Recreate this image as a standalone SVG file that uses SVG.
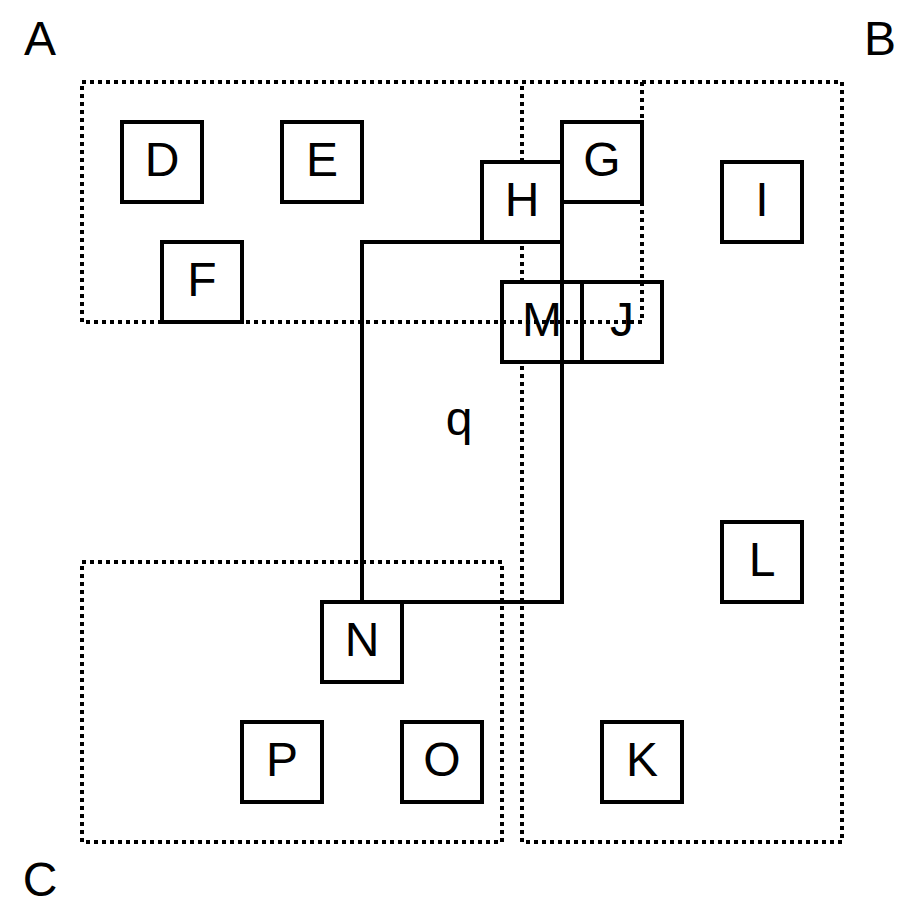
<svg xmlns="http://www.w3.org/2000/svg" width="920" height="920" viewBox="0 0 920 920">
<style>
.grp{fill:none;stroke:#000;stroke-width:4;stroke-dasharray:4 4}
.box{fill:#fff;stroke:#000;stroke-width:4}
.lbl{font-family:"Liberation Sans",Arial,sans-serif;font-size:48px;fill:#000;text-anchor:middle}
.edge{fill:none;stroke:#000;stroke-width:4}
</style>
<rect width="920" height="920" fill="#fff"/>
<g id="groupB"><rect class="grp" x="522" y="82" width="320" height="760"/><text class="lbl" x="880" y="55">B</text></g>
<g id="groupC"><rect class="grp" x="82" y="562" width="420" height="280"/><text class="lbl" x="40" y="896">C</text></g>
<g id="D"><rect class="box" x="122" y="122" width="80" height="80"/><text class="lbl" x="162" y="176">D</text></g>
<g id="E"><rect class="box" x="282" y="122" width="80" height="80"/><text class="lbl" x="322" y="176">E</text></g>
<g id="F"><rect class="box" x="162" y="242" width="80" height="80"/><text class="lbl" x="202" y="296">F</text></g>
<g id="G"><rect class="box" x="562" y="122" width="80" height="80"/><text class="lbl" x="602" y="176">G</text></g>
<g id="H"><rect class="box" x="482" y="162" width="80" height="80"/><text class="lbl" x="522" y="216">H</text></g>
<g id="I"><rect class="box" x="722" y="162" width="80" height="80"/><text class="lbl" x="762" y="216">I</text></g>
<g id="M"><rect class="box" x="502" y="282" width="80" height="80"/><text class="lbl" x="542" y="336">M</text></g>
<g id="J"><rect class="box" x="582" y="282" width="80" height="80"/><text class="lbl" x="622" y="336">J</text></g>
<g id="L"><rect class="box" x="722" y="522" width="80" height="80"/><text class="lbl" x="762" y="576">L</text></g>
<g id="N"><rect class="box" x="322" y="602" width="80" height="80"/><text class="lbl" x="362" y="656">N</text></g>
<g id="P"><rect class="box" x="242" y="722" width="80" height="80"/><text class="lbl" x="282" y="776">P</text></g>
<g id="O"><rect class="box" x="402" y="722" width="80" height="80"/><text class="lbl" x="442" y="776">O</text></g>
<g id="K"><rect class="box" x="602" y="722" width="80" height="80"/><text class="lbl" x="642" y="776">K</text></g>
<g id="connectors">
<polyline class="edge" points="482,242 362,242 362,602"/>
<polyline class="edge" points="562,202 562,602 402,602"/>
<text class="lbl" x="459" y="435">q</text>
</g>
<g id="groupA"><rect class="grp" x="82" y="82" width="560" height="240"/><text class="lbl" x="40" y="55">A</text></g>
</svg>
